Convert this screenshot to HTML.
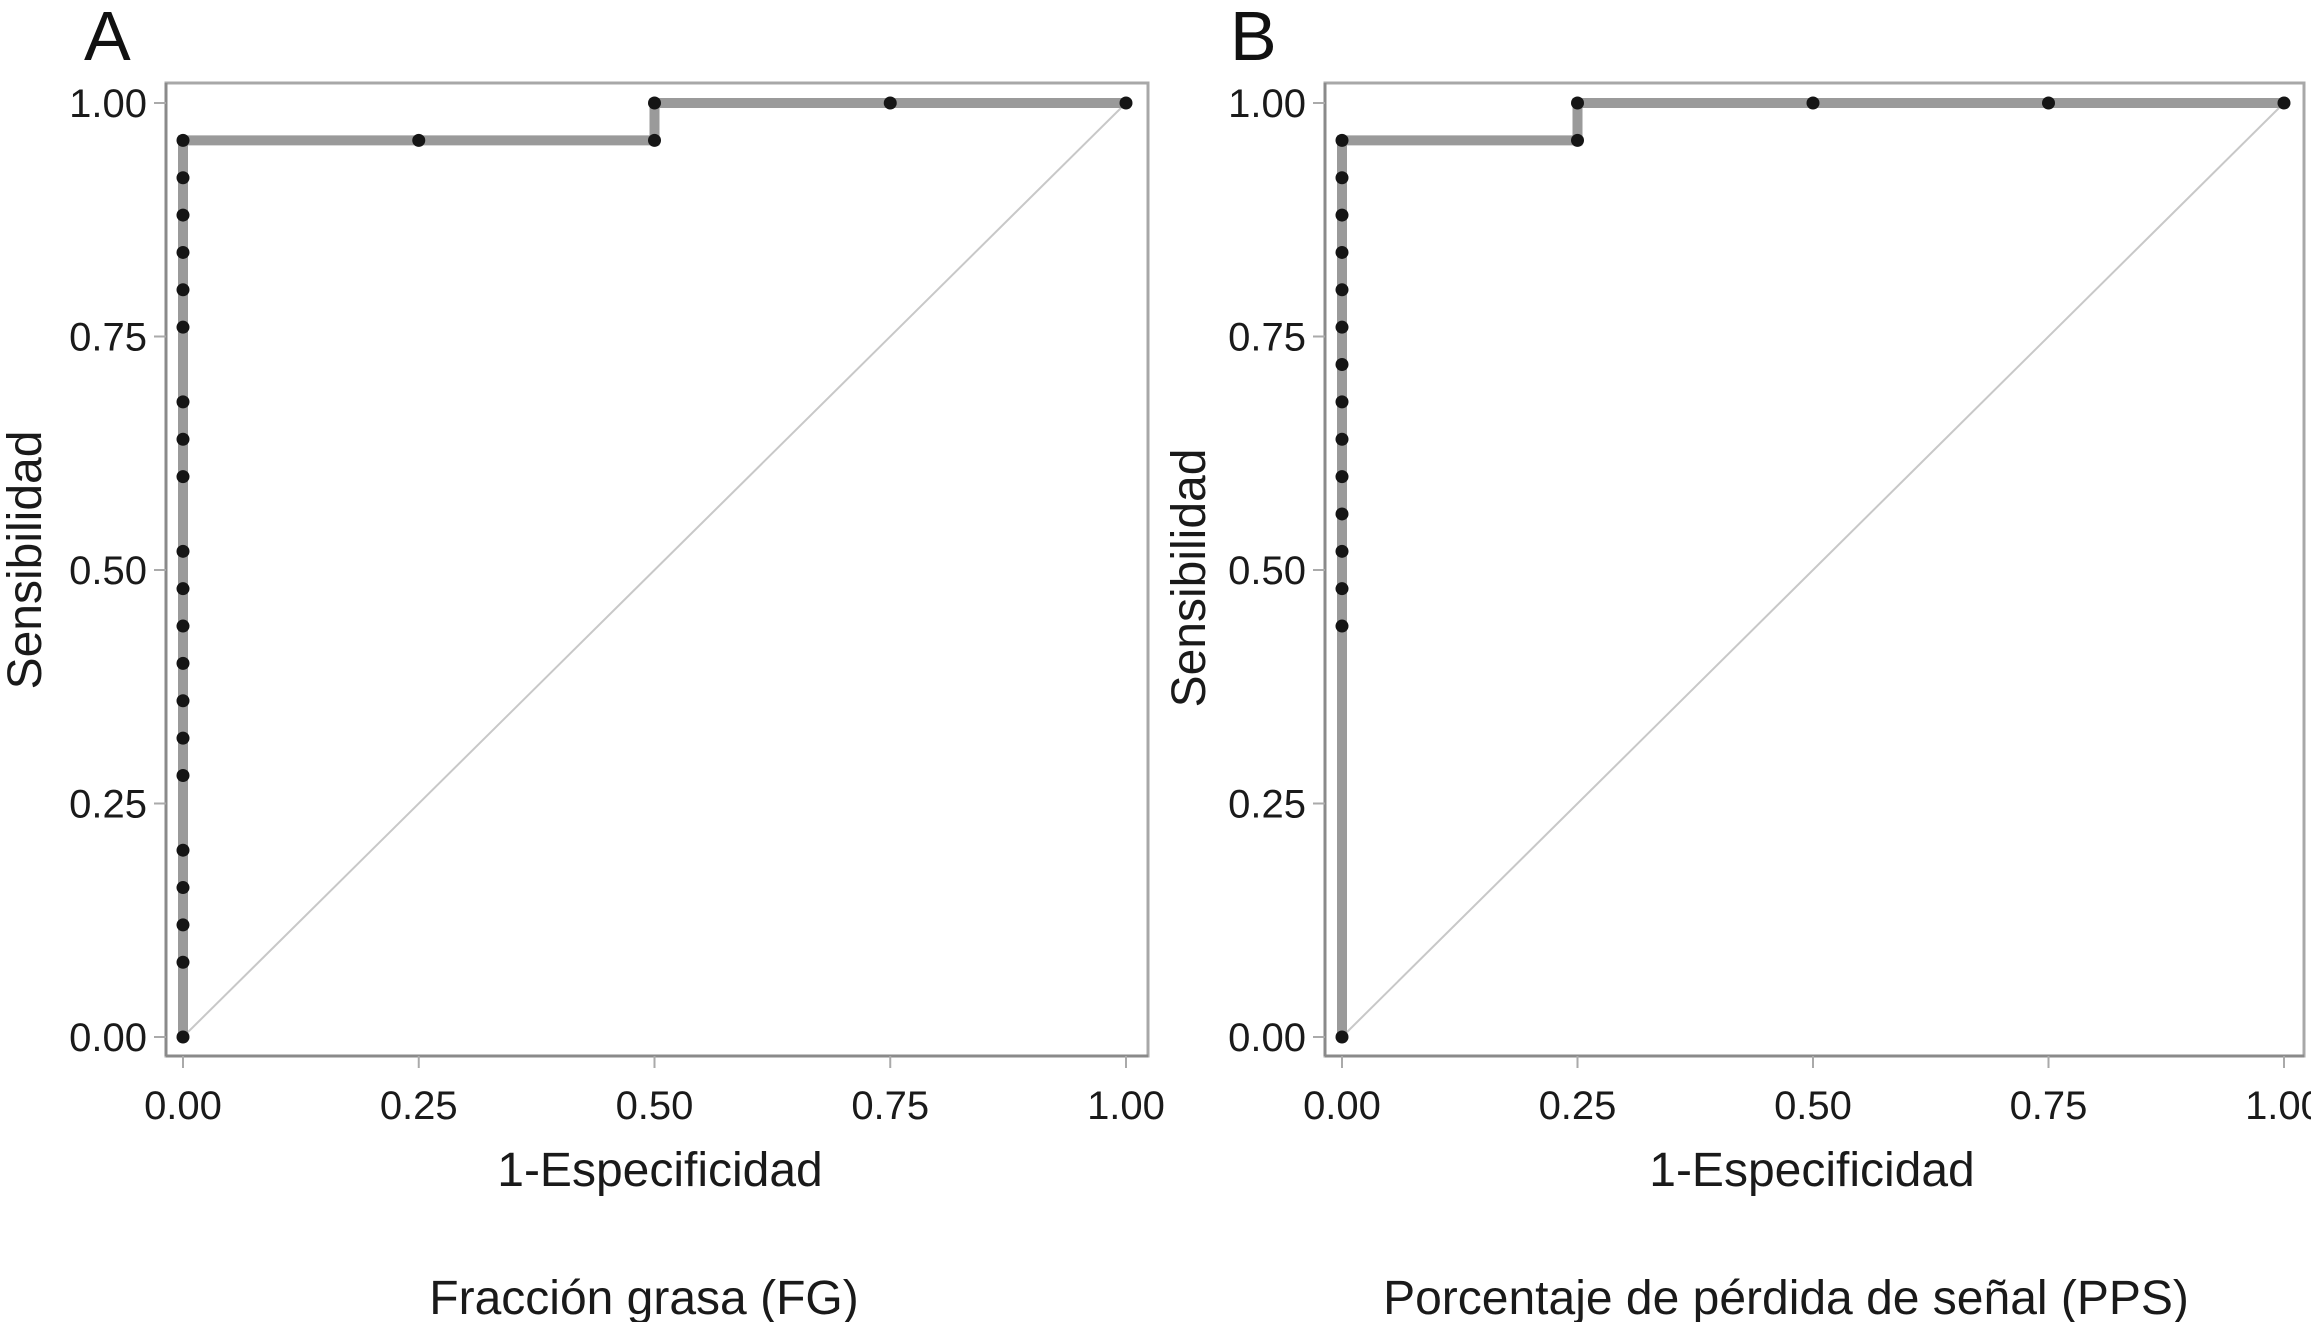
<!DOCTYPE html>
<html>
<head>
<meta charset="utf-8">
<style>
html,body{margin:0;padding:0;background:#fff;}
svg{display:block;font-family:"Liberation Sans",Arial,sans-serif;}
</style>
</head>
<body>
<svg id="fig" width="2311" height="1322" viewBox="0 0 2311 1322" xmlns="http://www.w3.org/2000/svg"></svg>
<script>
const tickValues = [0, 0.25, 0.5, 0.75, 1];
const tickLabels = ["0.00", "0.25", "0.50", "0.75", "1.00"];
const fgX = [0,0,0,0,0,0,0,0,0,0,0,0,0,0,0,0,0,0,0,0,0,0.25,0.5,0.5,0.75,1];
const fgY = [0,0.08,0.12,0.16,0.20,0.28,0.32,0.36,0.40,0.44,0.48,0.52,0.60,0.64,0.68,0.76,0.80,0.84,0.88,0.92,0.96,0.96,0.96,1,1,1];
const ppsX = [0,0,0,0,0,0,0,0,0,0,0,0,0,0,0,0.25,0.25,0.5,0.75,1];
const ppsY = [0,0.44,0.48,0.52,0.56,0.60,0.64,0.68,0.72,0.76,0.80,0.84,0.88,0.92,0.96,0.96,1,1,1,1];
const panelLetters = ["A", "B"];
const panelTitles = ["Fracción grasa (FG)", "Porcentaje de pérdida de señal (PPS)"];

const NS = "http://www.w3.org/2000/svg";
const svg = document.getElementById("fig");
function mk(tag, attrs, parent) {
  const e = document.createElementNS(NS, tag);
  for (const k in attrs) e.setAttribute(k, attrs[k]);
  (parent || svg).appendChild(e);
  return e;
}

const panels = [
  {xs: fgX, ys: fgY, box: [166, 83, 1148, 1056], x0: 183, x1: 1126, letterX: 84, ylabX: 24, ylabC: 560, xlabC: 660, titleC: 644},
  {xs: ppsX, ys: ppsY, box: [1325, 83, 2304, 1056], x0: 1342, x1: 2284, letterX: 1230, ylabX: 1188, ylabC: 578, xlabC: 1812, titleC: 1786}
];
const yTop = 103, yBot = 1037;

panels.forEach((p, i) => {
  const g = mk("g", {});
  
  
  const sx = v => p.x0 + v * (p.x1 - p.x0);
  const sy = v => yBot - v * (yBot - yTop);

  const letter = mk("text", {x: p.letterX, y: 60, "font-size": 70, fill: "#111"}, g);
  letter.textContent = panelLetters[i];
  
  

  const [l, t, r, b] = p.box;
  const frame = mk("rect", {x: l, y: t, width: r - l, height: b - t, fill: "#fff", stroke: "#a8a8a8", "stroke-width": 3}, g);
  
  
  mk("line", {x1: l, y1: t, x2: l, y2: b, stroke: "#8a8a8a", "stroke-width": 3}, g);
  mk("line", {x1: l, y1: b, x2: r, y2: b, stroke: "#8a8a8a", "stroke-width": 3}, g);

  tickValues.forEach((v, k) => {
    const ty = sy(v);
    mk("line", {x1: l - 12, y1: ty, x2: l, y2: ty, stroke: "#aaa", "stroke-width": 2}, g);
    const yl = mk("text", {x: l - 19, y: ty + 14, "font-size": 40, "text-anchor": "end", fill: "#1a1a1a"}, g);
    yl.textContent = tickLabels[k];
    
    
    const tx = sx(v);
    mk("line", {x1: tx, y1: b, x2: tx, y2: b + 12, stroke: "#aaa", "stroke-width": 2}, g);
    const xl = mk("text", {x: tx, y: 1119, "font-size": 40, "text-anchor": "middle", fill: "#1a1a1a"}, g);
    xl.textContent = tickLabels[k];
    
    
  });

  const diag = mk("line", {x1: sx(0), y1: sy(0), x2: sx(1), y2: sy(1), stroke: "#c8c8c8", "stroke-width": 2}, g);
  
  

  let d = "";
  p.xs.forEach((x, k) => { d += (k ? "L" : "M") + sx(x) + " " + sy(p.ys[k]) + " "; });
  const curve = mk("path", {d: d, fill: "none", stroke: "#9a9a9a", "stroke-width": 10}, g);
  
  

  p.xs.forEach((x, k) => {
    const c = mk("circle", {cx: sx(x), cy: sy(p.ys[k]), r: 6.5, fill: "#151515"}, g);
    
    
  });

  const xt = mk("text", {x: p.xlabC, y: 1186, "font-size": 48, "text-anchor": "middle", fill: "#1a1a1a"}, g);
  xt.textContent = "1-Especificidad";
  
  

  const yt = mk("text", {x: 0, y: 0, "font-size": 48, "text-anchor": "middle", fill: "#1a1a1a", transform: "translate(" + (p.ylabX + 17) + "," + p.ylabC + ") rotate(-90)"}, g);
  yt.textContent = "Sensibilidad";
  
  

  const tt = mk("text", {x: p.titleC, y: 1314, "font-size": 48, "text-anchor": "middle", fill: "#1a1a1a"}, g);
  tt.textContent = panelTitles[i];
  
  
});
</script>
</body>
</html>
